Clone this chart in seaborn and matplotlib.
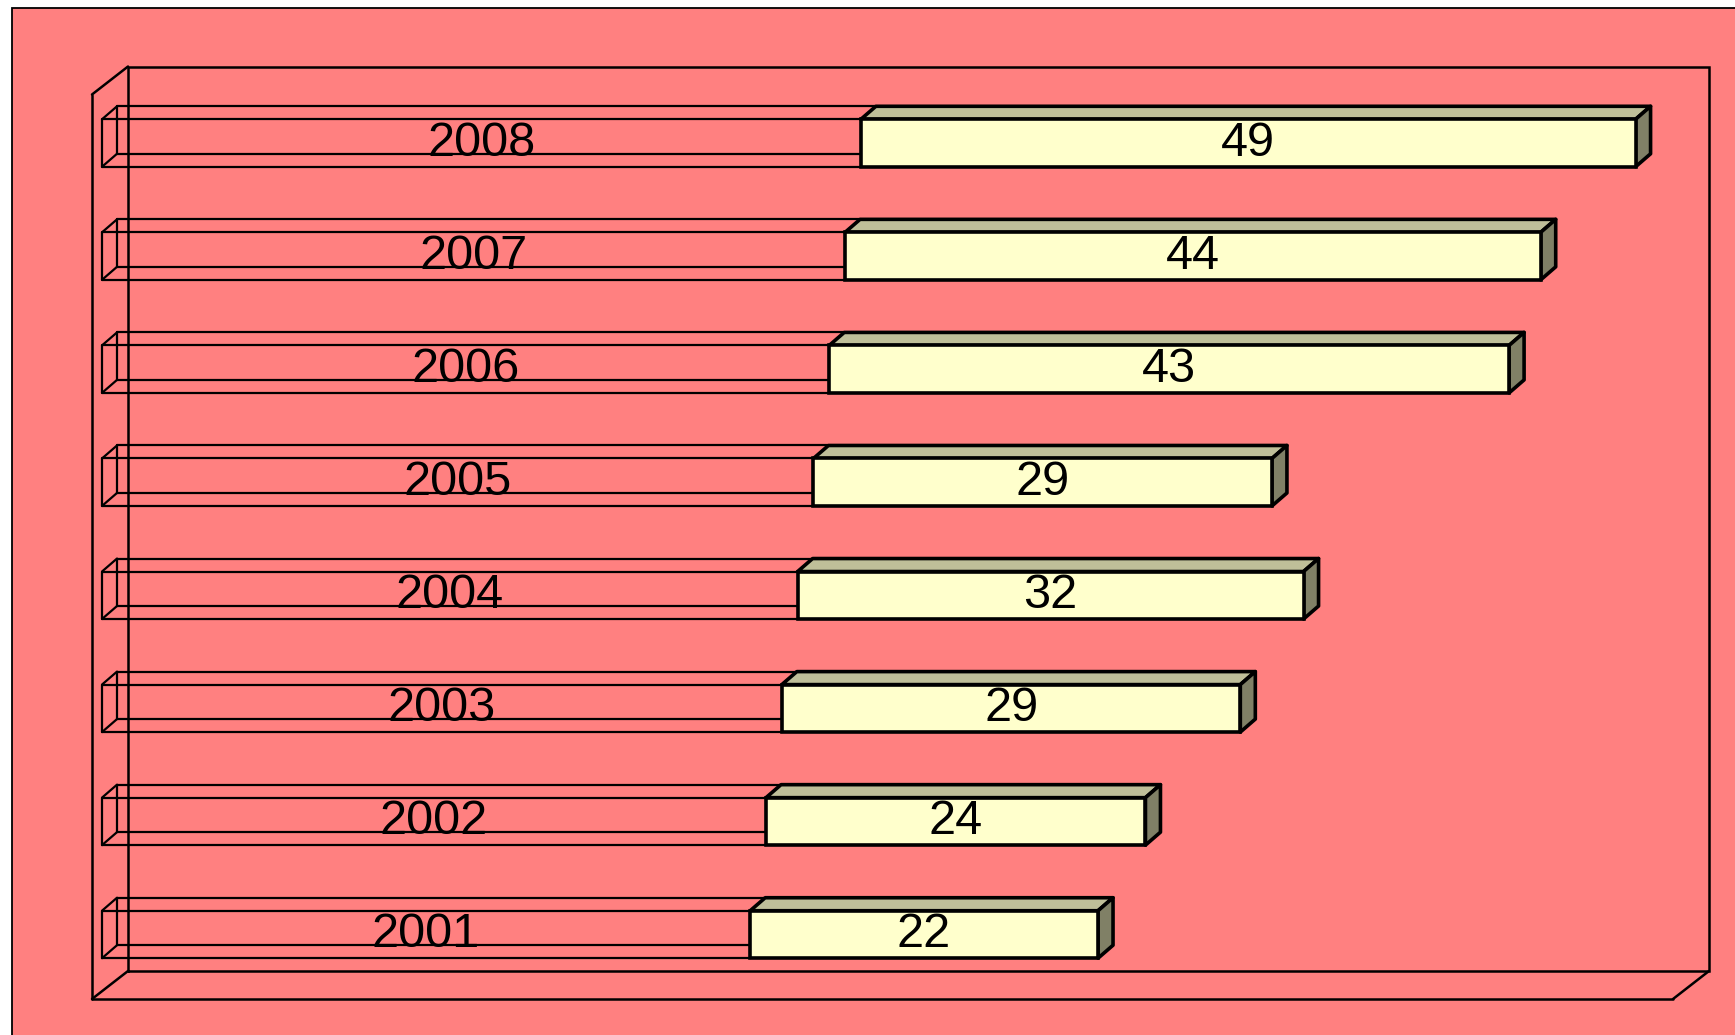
import numpy as np
import pandas as pd
import matplotlib
matplotlib.use("Agg")
import matplotlib.pyplot as plt
import seaborn as sns
from matplotlib.patches import Polygon, Rectangle
from matplotlib.lines import Line2D
from matplotlib.transforms import IdentityTransform
from matplotlib import font_manager

# ---------------- data ----------------
year_labels = ["2008", "2007", "2006", "2005", "2004", "2003", "2002", "2001"]
years = [2008, 2007, 2006, 2005, 2004, 2003, 2002, 2001]
values = [49, 44, 43, 29, 32, 29, 24, 22]
AXIS_MIN, AXIS_MAX = 1960, 2060

# ---------------- style ----------------
BG = "#FF8080"
FRONT = "#FFFFCC"
TOP = "#BFBF99"
SIDE = "#808066"
W, H, DPI = 1735, 1035, 100
BAR_DX, BAR_DY = 15, 13      # bar depth (pixels)
WALL_DX, WALL_DY = 36, 28    # frame depth (pixels)
PLANE_DX, PLANE_DY = -10, -8 # frame front plane relative to bar plane

sns.set_theme(style="white")
names = {f.name for f in font_manager.fontManager.ttflist}
if "Liberation Sans Narrow" in names:
    FONT, FS = "Liberation Sans Narrow", 37
else:
    FONT, FS = "Liberation Sans", 35
plt.rcParams["font.family"] = [FONT, "DejaVu Sans"]

df = pd.DataFrame({"label": year_labels, "year": years, "value": values})

fig = plt.figure(figsize=(W / DPI, H / DPI), dpi=DPI, facecolor="white")
fig.patches.append(Rectangle((12 / W, -0.1), 1.2, (H - 8) / H + 0.1,
                             transform=fig.transFigure, facecolor=BG,
                             edgecolor="black", lw=1.3, zorder=-10))

ax = fig.add_axes([102 / W, 44 / H, 1581 / W, 904.5 / H])
ax.set_facecolor("none")

# first segment (year), transparent wireframe
sns.barplot(data=df, x="year", y="label", order=year_labels, orient="h",
            width=0.42, ax=ax, errorbar=None)
seg1 = ax.containers[-1]
for p in seg1:
    p.set_facecolor("none")
    p.set_edgecolor("black")
    p.set_linewidth(1.6)
    p.set_zorder(1.5)

# second segment (value), stacked on the year
sns.barplot(data=df, x="value", y="label", order=year_labels, orient="h",
            width=0.42, ax=ax, errorbar=None)
seg2 = ax.containers[-1]
for p, yr in zip(seg2, years):
    p.set_x(yr)  # stack on top of the first series
    p.set_facecolor(FRONT)
    p.set_edgecolor("black")
    p.set_linewidth(2.6)
    p.set_zorder(4)

ax.set_xlim(AXIS_MIN, AXIS_MAX)
ax.set_ylim(len(year_labels) - 0.5, -0.5)
ax.axis("off")

ident = IdentityTransform()


def line(xs, ys, lw=1.6, z=1.2):
    ax.add_line(Line2D(xs, ys, color="black", lw=lw, transform=ident,
                       clip_on=False, zorder=z, solid_capstyle="round",
                       solid_joinstyle="miter"))


# frame (walls)
bb = ax.bbox
FL, FR = bb.x0 + PLANE_DX, bb.x1 + PLANE_DX
FB, FT = bb.y0 + PLANE_DY, bb.y1 + PLANE_DY
BL, BR, BB_, BT = FL + WALL_DX, FR + WALL_DX, FB + WALL_DY, FT + WALL_DY
FW = 1.8
line([BL, BR, BR, BL, BL], [BB_, BB_, BT, BT, BB_], lw=FW, z=0.5)
line([FL, FL], [FB, FT], lw=FW, z=0.5)
line([FL, BL], [FT, BT], lw=FW, z=0.5)
line([FL, BL], [FB, BB_], lw=FW, z=0.5)
line([FL, FR], [FB, FB], lw=FW, z=0.5)
line([FR, BR], [FB, BB_], lw=FW, z=0.5)

# 3D pieces
for i, (p1, p2) in enumerate(zip(seg1, seg2)):
    y0 = p2.get_y()
    y1 = y0 + p2.get_height()
    x1 = p2.get_x()
    x2 = x1 + p2.get_width()
    pts = ax.transData.transform([[AXIS_MIN, y0], [AXIS_MIN, y1], [x1, y0], [x2, y0]])
    X0 = pts[0, 0]
    T = max(pts[0, 1], pts[1, 1])
    B = min(pts[0, 1], pts[1, 1])
    X1 = pts[2, 0]
    X2 = pts[3, 0]
    dx, dy = BAR_DX, BAR_DY
    # wireframe of the transparent first segment
    line([X0, X0], [B, T])
    line([X0 + dx, X0 + dx], [B + dy, T + dy])
    line([X0, X0 + dx], [T, T + dy])
    line([X0, X0 + dx], [B, B + dy])
    line([X0 + dx, X1 + dx], [T + dy, T + dy])
    line([X0 + dx, X1 + dx], [B + dy, B + dy])
    # top and side faces of the value bar
    ax.add_patch(Polygon([[X1, T], [X2, T], [X2 + dx, T + dy], [X1 + dx, T + dy]],
                         closed=True, facecolor=TOP, edgecolor="black", lw=2.6,
                         transform=ident, clip_on=False, zorder=3, joinstyle="round"))
    ax.add_patch(Polygon([[X2, T], [X2, B], [X2 + dx, B + dy], [X2 + dx, T + dy]],
                         closed=True, facecolor=SIDE, edgecolor="black", lw=2.6,
                         transform=ident, clip_on=False, zorder=3, joinstyle="round"))

# labels
for i, (lab, yr, v) in enumerate(zip(year_labels, years, values)):
    ax.text((AXIS_MIN + yr) / 2, i, lab, ha="center", va="center",
            fontsize=FS, color="black", zorder=6)
    ax.text(yr + v / 2, i, str(v), ha="center", va="center",
            fontsize=FS, color="black", zorder=6)

fig.savefig("out.png", dpi=DPI, facecolor=fig.get_facecolor())
